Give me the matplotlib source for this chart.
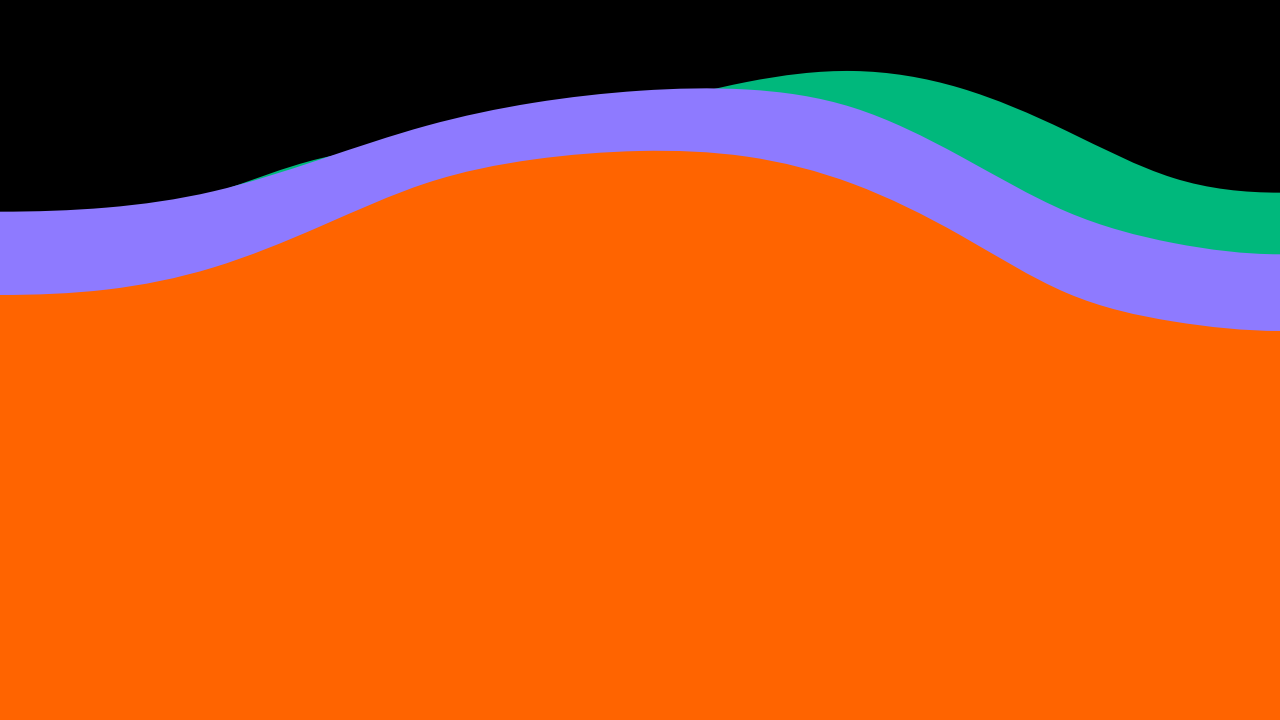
import numpy as np
import matplotlib
matplotlib.use("Agg")
import matplotlib.pyplot as plt
from matplotlib.path import Path
from matplotlib.patches import PathPatch

# 13 evenly spaced points (0-100 scale)
x = list(range(13))
green = [65.28, 68.61, 73.13, 77.99, 80.14, 82.50, 85.28, 88.61, 90.14, 87.78, 81.81, 75.28, 73.24]
purple = [70.60, 71.17, 73.43, 77.85, 82.54, 85.72, 87.40, 87.57, 85.04, 78.33, 70.60, 66.25, 64.68]
orange = [59.03, 59.78, 62.85, 68.54, 74.58, 77.85, 79.03, 78.25, 74.44, 67.36, 59.31, 55.35, 54.03]

colors = {"green": "#00B87C", "purple": "#8E7AFF", "orange": "#FF6400"}


def spline_slopes(ys):
    # cubic spline (C2) tangents, flat at both ends, unit spacing
    ys = np.asarray(ys, float)
    n = len(ys)
    m = np.zeros((n, n))
    rhs = np.zeros(n)
    m[0, 0] = m[-1, -1] = 1
    for i in range(1, n - 1):
        m[i, i - 1], m[i, i], m[i, i + 1] = 1, 4, 1
        rhs[i] = 3 * (ys[i + 1] - ys[i - 1])
    return np.linalg.solve(m, rhs)


def area_path(xs, ys, base=0):
    t = spline_slopes(ys)
    verts = [(xs[0], base), (xs[0], ys[0])]
    codes = [Path.MOVETO, Path.LINETO]
    for i in range(len(xs) - 1):
        verts += [(xs[i] + 1 / 3, ys[i] + t[i] / 3),
                  (xs[i + 1] - 1 / 3, ys[i + 1] - t[i + 1] / 3),
                  (xs[i + 1], ys[i + 1])]
        codes += [Path.CURVE4] * 3
    verts += [(xs[-1], base), (xs[0], base)]
    codes += [Path.LINETO, Path.CLOSEPOLY]
    return Path(verts, codes)


fig = plt.figure(figsize=(12.8, 7.2), dpi=100, facecolor="black")
ax = fig.add_axes([0, 0, 1, 1])
ax.set_facecolor("black")

# back to front: green, purple, orange
for name, ys in [("green", green), ("purple", purple), ("orange", orange)]:
    ax.add_patch(PathPatch(area_path(x, ys), facecolor=colors[name], edgecolor="none"))

ax.set_xlim(0, 12)
ax.set_ylim(0, 100)
ax.axis("off")

fig.savefig("out.png", dpi=100, facecolor="black")
